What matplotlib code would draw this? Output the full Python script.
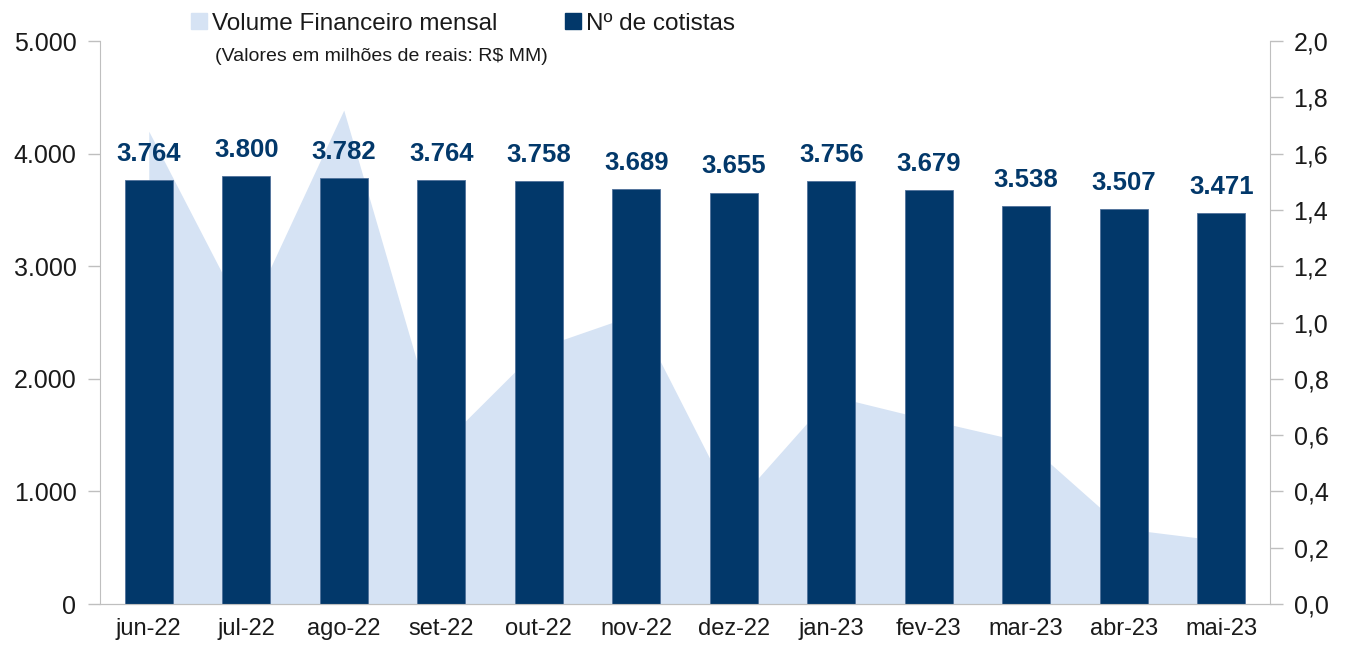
import matplotlib.pyplot as plt
from matplotlib.lines import Line2D
from matplotlib.ticker import FuncFormatter

plt.rcParams['font.family'] = ['Liberation Sans', 'DejaVu Sans']

meses = ['jun-22', 'jul-22', 'ago-22', 'set-22', 'out-22', 'nov-22',
         'dez-22', 'jan-23', 'fev-23', 'mar-23', 'abr-23', 'mai-23']
cotistas = [3764, 3800, 3782, 3764, 3758, 3689, 3655, 3756, 3679, 3538, 3507, 3471]
volume = [1.68, 1.01, 1.755, 0.565, 0.91, 1.03, 0.35, 0.74, 0.655, 0.575, 0.268, 0.225]

cor_barra = '#02386A'
cor_area = '#D6E3F4'
cinza = '#BFBFBF'
texto = '#1A1A1A'

fig = plt.figure(figsize=(13.46, 6.53), dpi=100)
ax = fig.add_axes([0.0743, 0.075, 0.8692, 0.862])
ax2 = ax.twinx()

x = list(range(len(meses)))

# area do volume (eixo direito) atras das barras
ax2.fill_between(x, volume, 0, color=cor_area, linewidth=0)
ax2.set_ylim(0, 2.0)
ax2.set_yticks([i / 10 for i in range(0, 21, 2)])
ax2.yaxis.set_major_formatter(FuncFormatter(lambda v, p: f'{v:.1f}'.replace('.', ',')))

ax.set_zorder(ax2.get_zorder() + 1)
ax.patch.set_visible(False)

barras = ax.bar(x, cotistas, width=0.49, color=cor_barra, edgecolor='#4F719A', linewidth=0.6)
for xi, v in zip(x, cotistas):
    ax.text(xi, v + 125, f'{v:,}'.replace(',', '.'), ha='center', va='bottom',
            fontsize=18.5, fontweight='bold', color=cor_barra)

ax.set_ylim(0, 5000)
ax.set_xlim(-0.5, len(meses) - 0.5)
ax.set_yticks(range(0, 5001, 1000))
ax.yaxis.set_major_formatter(FuncFormatter(lambda v, p: '0' if v == 0 else f'{int(v):,}'.replace(',', '.')))
ax.set_xticks(x)
ax.set_xticklabels(meses)

for a in (ax, ax2):
    for s in a.spines.values():
        s.set_color(cinza)
    a.spines['top'].set_visible(False)
    a.tick_params(axis='y', colors=cinza, labelcolor=texto, labelsize=18, length=9, width=1, pad=8)
ax.spines['right'].set_visible(False)
ax2.spines['left'].set_visible(False)
ax.tick_params(axis='x', length=0, labelsize=17, labelcolor=texto, pad=10)

handles = [Line2D([], [], marker='s', linestyle='none', markersize=12, color=cor_area),
           Line2D([], [], marker='s', linestyle='none', markersize=12, color=cor_barra)]
leg = fig.legend(handles, ['Volume Financeiro mensal', 'Nº de cotistas'], ncol=2,
                 loc='upper left', bbox_to_anchor=(0.124, 1.014), frameon=False,
                 fontsize=17.5, handletextpad=0.15, columnspacing=2.7, handlelength=0.8)
for t in leg.get_texts():
    t.set_color(texto)
fig.text(0.16, 0.913, '(Valores em milhões de reais: R$ MM)', fontsize=14, color=texto,
         va='center', ha='left')

fig.savefig('out.png', dpi=100)
